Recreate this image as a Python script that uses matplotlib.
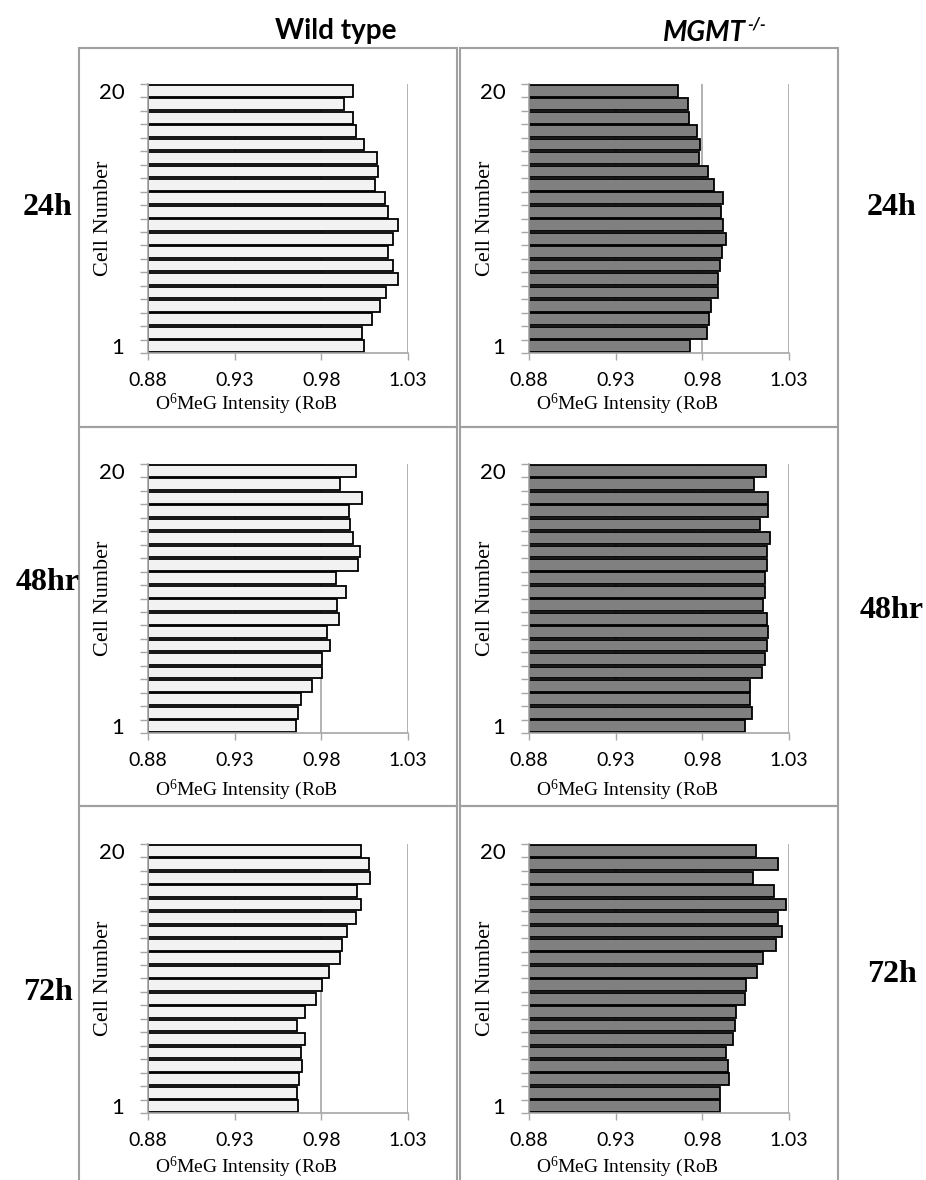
import matplotlib
matplotlib.use("Agg")
import matplotlib.pyplot as plt
from matplotlib.patches import Rectangle

plt.rcParams['mathtext.fontset'] = 'custom'
plt.rcParams['mathtext.rm'] = 'Liberation Serif'
plt.rcParams['mathtext.it'] = 'Liberation Serif:italic'

# данные: интенсивность O6MeG по клеткам 1..20
cells = list(range(1, 21))
wt_24h = [1.0046, 1.0037, 1.0094, 1.0140, 1.0175, 1.0242, 1.0212, 1.0187, 1.0213, 1.0244,
          1.0185, 1.0165, 1.0110, 1.0127, 1.0121, 1.0048, 0.9998, 0.9985, 0.9933, 0.9985]
ko_24h = [0.9731, 0.9826, 0.9839, 0.9850, 0.9893, 0.9889, 0.9904, 0.9912, 0.9939, 0.9922,
          0.9908, 0.9922, 0.9868, 0.9831, 0.9778, 0.9787, 0.9772, 0.9724, 0.9718, 0.9662]
wt_48h = [0.9656, 0.9667, 0.9683, 0.9746, 0.9802, 0.9802, 0.9852, 0.9831, 0.9900, 0.9892,
          0.9940, 0.9883, 1.0013, 1.0025, 0.9983, 0.9967, 0.9960, 1.0033, 0.9910, 1.0000]
ko_48h = [1.0046, 1.0085, 1.0077, 1.0073, 1.0146, 1.0162, 1.0171, 1.0179, 1.0175, 1.0148,
          1.0164, 1.0160, 1.0171, 1.0175, 1.0192, 1.0135, 1.0181, 1.0181, 1.0096, 1.0165]
wt_72h = [0.9665, 0.9662, 0.9669, 0.9688, 0.9681, 0.9706, 0.9660, 0.9706, 0.9767, 0.9802,
          0.9846, 0.9910, 0.9917, 0.9948, 1.0000, 1.0027, 1.0004, 1.0081, 1.0073, 1.0027]
ko_72h = [0.9902, 0.9904, 0.9952, 0.9948, 0.9935, 0.9975, 0.9989, 0.9995, 1.0048, 1.0054,
          1.0116, 1.0152, 1.0227, 1.0258, 1.0238, 1.0283, 1.0215, 1.0094, 1.0238, 1.0110]

x_ticks = [0.88, 0.93, 0.98, 1.03]
x_ticklabels = ['0.88', '0.93', '0.98', '1.03']
row_labels = ['24h', '48hr', '72h']
panels = [[wt_24h, ko_24h], [wt_48h, ko_48h], [wt_72h, ko_72h]]
bar_colors = ['#f2f2f2', '#808080']

W, H = 926, 1180
fig = plt.figure(figsize=(W / 100, H / 100), dpi=100)

def fx(px):
    return px / W

def fy(py):
    return 1 - py / H

grid_c = '#a6a6a6'
col_x = [148, 529]          # левый край осей (px)
row_top = [84, 464, 844]    # верх осей (px)
ax_w, ax_h = 260, 269
# положения меток времени (px): слева и справа
lab_y_left = [207, 583, 993]
lab_y_right = [207, 610, 975]
xlab_off = [51, 57, 54]     # отступ подписи оси X от низа осей

# рамки панелей
box_x = [(79, 457), (460, 838)]
box_y = [(48, 427), (427, 806), (806, 1186)]
for (y0, y1) in box_y:
    for (x0, x1) in box_x:
        fig.add_artist(Rectangle((fx(x0), fy(y1)), fx(x1 - x0), (y1 - y0) / H,
                                 transform=fig.transFigure, fill=False,
                                 edgecolor='#a0a0a0', linewidth=1.5))

for r in range(3):
    for c in range(2):
        vals = panels[r][c]
        ax = fig.add_axes([fx(col_x[c]), fy(row_top[r] + ax_h), fx(ax_w), ax_h / H])
        ax.barh(cells, [v - 0.88 for v in vals], left=0.88, height=0.88,
                color=bar_colors[c], edgecolor='black', linewidth=1.3, zorder=2)
        ax.set_xlim(0.88, 1.03)
        ax.set_ylim(0.5, 20.5)
        ax.set_xticks(x_ticks)
        ax.set_xticklabels(x_ticklabels, fontfamily='Lato', fontsize=14)
        ax.set_yticks([0.5 + i for i in range(21)])
        ax.set_yticklabels([])
        ax.set_yticks([1, 20], minor=True)
        ax.set_yticklabels(['1', '20'], minor=True, fontfamily='Lato', fontsize=16)
        ax.tick_params(axis='y', which='minor', length=0, pad=17)
        ax.tick_params(axis='y', which='major', length=6, width=1, color=grid_c)
        ax.tick_params(axis='x', length=5, width=1, color=grid_c, pad=9)
        ax.grid(axis='x', color=grid_c, linewidth=1.2, zorder=0)
        ax.set_axisbelow(True)
        for s in ['top', 'right']:
            ax.spines[s].set_visible(False)
        for s in ['left', 'bottom']:
            ax.spines[s].set_color(grid_c)
            ax.spines[s].set_linewidth(1.2)
        ax.patch.set_alpha(0)

        # подписи осей
        fig.text(fx(col_x[c] - 44), fy(row_top[r] + ax_h / 2), 'Cell Number',
                 rotation=90, ha='center', va='center', fontfamily='Liberation Serif',
                 fontsize=16)
        fig.text(fx(col_x[c] + 98), fy(row_top[r] + ax_h + xlab_off[r]),
                 'O$^{6}$MeG Intensity (RoB',
                 ha='center', va='center', fontfamily='Liberation Serif', fontsize=14)

    # метки времени
    fig.text(fx(48), fy(lab_y_left[r]), row_labels[r], ha='center', va='center',
             fontfamily='Liberation Serif', fontweight='bold', fontsize=23)
    fig.text(fx(892), fy(lab_y_right[r]), row_labels[r], ha='center', va='center',
             fontfamily='Liberation Serif', fontweight='bold', fontsize=23)

# заголовки столбцов
fig.text(fx(336), fy(31), 'Wild type', ha='center', va='center',
         fontfamily='Lato', fontweight='bold', fontsize=20)
fig.text(fx(746), fy(33), 'MGMT', ha='right', va='center',
         fontfamily='Lato', fontweight='bold', fontstyle='italic', fontsize=20)
fig.text(fx(747), fy(24), '-/-', ha='left', va='center',
         fontfamily='Lato', fontweight='bold', fontstyle='italic', fontsize=12)

fig.savefig('out.png', dpi=100)
